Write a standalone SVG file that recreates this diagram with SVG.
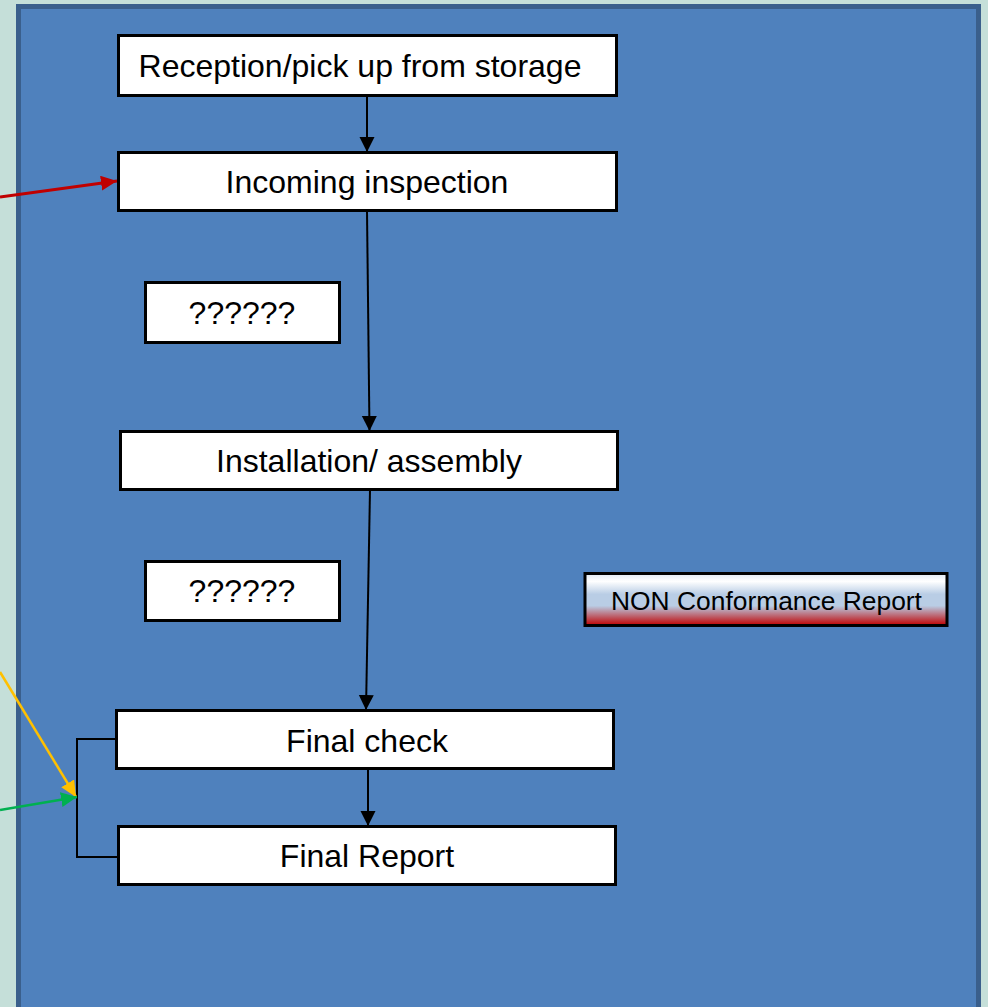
<svg xmlns="http://www.w3.org/2000/svg" width="988" height="1007" viewBox="0 0 988 1007">
<style>
.box{fill:#ffffff;stroke:#000000;stroke-width:3}
.lbl{font-family:"Liberation Sans",Arial,sans-serif;font-size:32px;fill:#000000;text-anchor:middle}
.conn{stroke:#000000;stroke-width:2;fill:none}
</style>
<defs>
<marker id="ab" markerUnits="userSpaceOnUse" markerWidth="16" markerHeight="16" refX="15" refY="7.5" orient="auto"><path d="M0,0 L15,7.5 L0,15 Z" fill="#000000"/></marker>
<marker id="ar" markerUnits="userSpaceOnUse" markerWidth="17" markerHeight="16" refX="16" refY="7.5" orient="auto"><path d="M0,0 L16,7.5 L0,15 Z" fill="#c00000"/></marker>
<marker id="ay" markerUnits="userSpaceOnUse" markerWidth="17" markerHeight="16" refX="16" refY="7.5" orient="auto"><path d="M0,0 L16,7.5 L0,15 Z" fill="#ffc000"/></marker>
<marker id="ag" markerUnits="userSpaceOnUse" markerWidth="17" markerHeight="16" refX="16" refY="7.5" orient="auto"><path d="M0,0 L16,7.5 L0,15 Z" fill="#00b050"/></marker>
<linearGradient id="ncr" x1="0" y1="0" x2="0" y2="1">
<stop offset="0" stop-color="#dfe8f3"/>
<stop offset="0.15" stop-color="#ffffff"/>
<stop offset="0.4" stop-color="#b9cde5"/>
<stop offset="0.62" stop-color="#b9cde5"/>
<stop offset="1" stop-color="#c00000"/>
</linearGradient>
</defs>
<rect x="0" y="0" width="988" height="1007" fill="#c5dfd9"/>
<rect id="panel" x="18.5" y="6.5" width="960" height="1010" fill="#4f81bd" stroke="#3a5f8c" stroke-width="5"/>

<g id="connectors">
<line class="conn" x1="367" y1="96" x2="367" y2="152" marker-end="url(#ab)"/>
<line class="conn" x1="367" y1="211" x2="369.5" y2="431" marker-end="url(#ab)"/>
<line class="conn" x1="370" y1="490" x2="366" y2="710" marker-end="url(#ab)"/>
<line class="conn" x1="368" y1="769" x2="368" y2="826" marker-end="url(#ab)"/>
<polyline class="conn" points="116,739 77,739 77,857 118,857"/>
<line x1="0" y1="197" x2="117" y2="181" stroke="#c00000" stroke-width="3" marker-end="url(#ar)"/>
<line x1="0" y1="672" x2="76" y2="797" stroke="#ffc000" stroke-width="2.5" marker-end="url(#ay)"/>
<line x1="0" y1="810" x2="77" y2="797" stroke="#00b050" stroke-width="2.5" marker-end="url(#ag)"/>
</g>

<g id="reception">
<rect class="box" x="118.5" y="35.5" width="498" height="60"/>
<text class="lbl" x="360" y="77">Reception/pick up from storage</text>
</g>
<g id="incoming">
<rect class="box" x="118.5" y="152.5" width="498" height="58"/>
<text class="lbl" x="367" y="193">Incoming inspection</text>
</g>
<g id="q1">
<rect class="box" x="145.5" y="282.5" width="194" height="60"/>
<text class="lbl" x="242" y="324">??????</text>
</g>
<g id="installation">
<rect class="box" x="120.5" y="431.5" width="497" height="58"/>
<text class="lbl" x="369" y="472">Installation/ assembly</text>
</g>
<g id="q2">
<rect class="box" x="145.5" y="561.5" width="194" height="59"/>
<text class="lbl" x="242" y="602">??????</text>
</g>
<g id="ncr-node">
<rect x="585" y="573.5" width="362" height="52" fill="url(#ncr)" stroke="#000000" stroke-width="3"/>
<text class="lbl" x="766.5" y="610" style="font-size:26.4px">NON Conformance Report</text>
</g>
<g id="finalcheck">
<rect class="box" x="116.5" y="710.5" width="497" height="58"/>
<text class="lbl" x="367" y="752">Final check</text>
</g>
<g id="finalreport">
<rect class="box" x="118.5" y="826.5" width="497" height="58"/>
<text class="lbl" x="367" y="867">Final Report</text>
</g>
</svg>
